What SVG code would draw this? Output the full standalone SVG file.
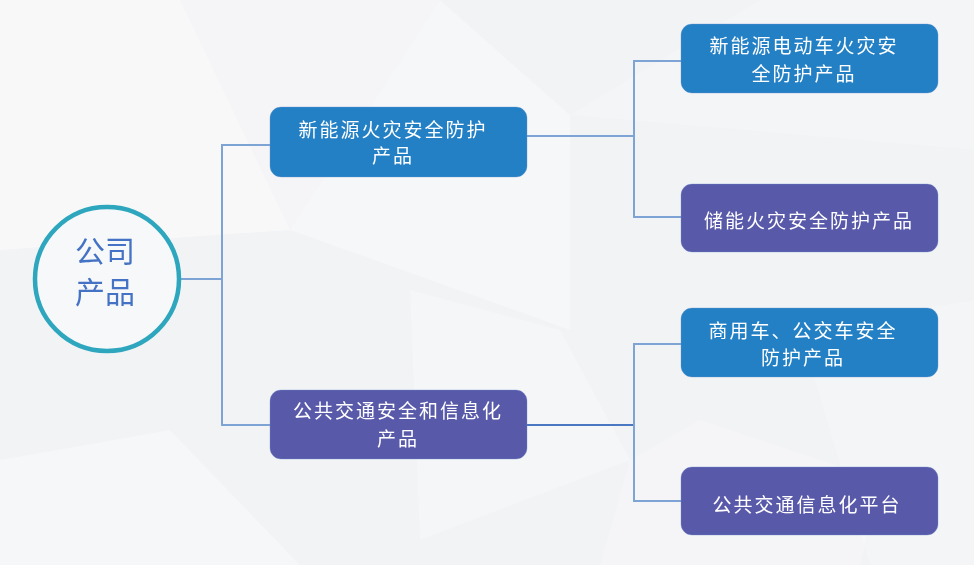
<svg xmlns="http://www.w3.org/2000/svg" width="974" height="565" viewBox="0 0 974 565">
<style>
.bg{fill:#f2f3f5}
.poly{fill:#ffffff}
.blue{fill:#2480c5}
.purple{fill:#5959aa}
.box{stroke:#6a8fc8;stroke-opacity:0.35;stroke-width:1}
.t{font-family:"Noto Sans CJK SC","Noto Sans",sans-serif;font-size:19px;fill:#ffffff;text-anchor:middle;letter-spacing:2px}
.ct{font-family:"Noto Sans CJK SC","Noto Sans",sans-serif;font-size:30px;fill:#4472c4;text-anchor:middle}
.conn{fill:none;stroke:#7ea4d6;stroke-width:2}
.conn2{fill:none;stroke:#4a77c2;stroke-width:2}
</style>
<rect class="bg" x="0" y="0" width="974" height="565"/>
<g id="background" opacity="0.45">
<polygon class="poly" points="0,0 180,0 290,230 0,250"/>
<polygon class="poly" points="180,0 440,0 290,230" opacity="0.5"/>
<polygon class="poly" points="290,230 440,0 570,115 570,330" opacity="0.7"/>
<polygon class="poly" points="570,115 760,0 974,0 974,150" opacity="0.4"/>
<polygon class="poly" points="410,290 560,330 630,460 420,540" opacity="0.6"/>
<polygon class="poly" points="0,460 170,430 300,565 0,565" opacity="0.7"/>
<polygon class="poly" points="630,460 700,420 880,480 860,565 600,565" opacity="0.5"/>
<polygon class="poly" points="800,330 974,300 974,565 870,565" opacity="0.4"/>
</g>
<g id="connectors">
<polyline class="conn" points="180,279 222,279"/>
<polyline class="conn" points="270,145 222,145 222,425 270,425"/>
<polyline class="conn" points="527,136 634,136"/>
<polyline class="conn" points="681,61 634,61 634,217 681,217"/>
<polyline class="conn2" points="527,425 634,425"/>
<polyline class="conn" points="681,344 634,344 634,501 681,501"/>
</g>
<g id="root">
<circle cx="107" cy="279" r="72" fill="#f7f8f9" stroke="#2ea7be" stroke-width="4.5"/>
<text class="ct" x="105" y="262">公司</text>
<text class="ct" x="105" y="303">产品</text>
</g>
<g id="n1">
<rect class="blue box" x="270" y="107" width="257" height="70" rx="11"/>
<text class="t" x="393" y="137">新能源火灾安全防护</text>
<text class="t" x="393" y="163">产品</text>
</g>
<g id="n2">
<rect class="purple box" x="270" y="390" width="257" height="69" rx="11"/>
<text class="t" x="398" y="418">公共交通安全和信息化</text>
<text class="t" x="398" y="446">产品</text>
</g>
<g id="r1">
<rect class="blue box" x="681" y="24" width="257" height="69" rx="11"/>
<text class="t" x="804" y="53">新能源电动车火灾安</text>
<text class="t" x="804" y="81">全防护产品</text>
</g>
<g id="r2">
<rect class="purple box" x="681" y="184" width="257" height="68" rx="11"/>
<text class="t" x="809" y="228">储能火灾安全防护产品</text>
</g>
<g id="r3">
<rect class="blue box" x="681" y="308" width="257" height="69" rx="11"/>
<text class="t" x="803" y="338">商用车、公交车安全</text>
<text class="t" x="803" y="365">防护产品</text>
</g>
<g id="r4">
<rect class="purple box" x="681" y="467" width="257" height="68" rx="11"/>
<text class="t" x="807" y="512">公共交通信息化平台</text>
</g>
</svg>
